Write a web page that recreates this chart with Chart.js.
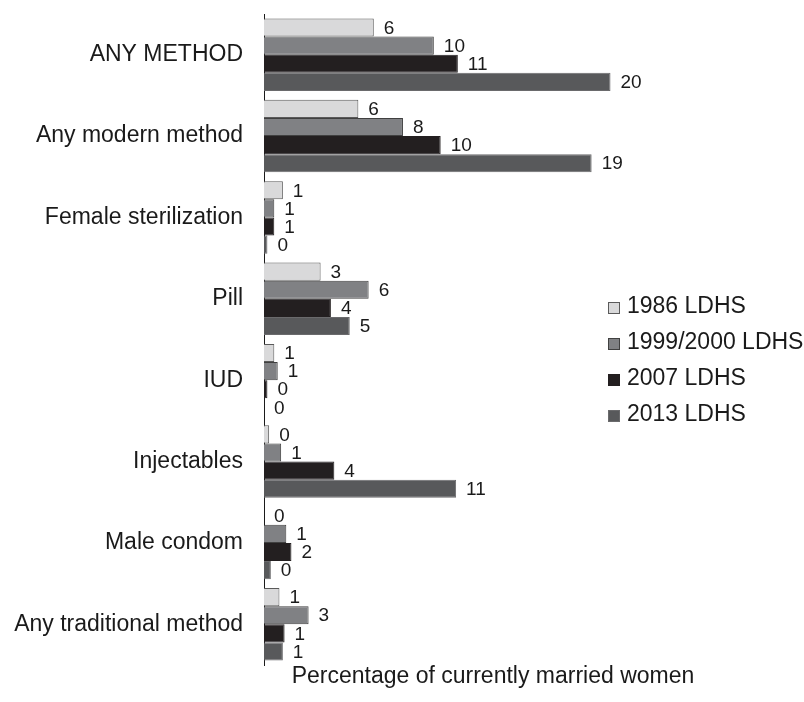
<!DOCTYPE html>
<html>
<head>
<meta charset="utf-8">
<title>Contraceptive use, LDHS</title>
<script src="https://cdn.jsdelivr.net/npm/chart.js@4.4.1/dist/chart.umd.min.js"></script>
<style>
  body { margin: 0; background: #fff; }
  #wrap { position: relative; width: 804px; height: 702px; }
  #legend {
    position: absolute; left: 608px; top: 287px;
    font: 23px "Liberation Sans", Arial, sans-serif; color: #1a1a1a;
  }
  #legend div { height: 36px; line-height: 36px; white-space: nowrap; }
  #legend span {
    display: inline-block; width: 10px; height: 10px; margin-right: 7px;
    border: 1px solid #555; vertical-align: -1px;
  }
</style>
</head>
<body>
<div id="wrap">
  <canvas id="chart"></canvas>
  <div id="legend"></div>
</div>
<script>
// categories (top to bottom)
const methods = [
  "ANY METHOD",
  "Any modern method",
  "Female sterilization",
  "Pill",
  "IUD",
  "Injectables",
  "Male condom",
  "Any traditional method"
];

// percentage of currently married women, per survey
const ldhs1986 = [6.4, 5.5, 1.1, 3.3, 0.6, 0.3, 0.0, 0.9];
const ldhs1999 = [9.9, 8.1, 0.6, 6.1, 0.8, 1.0, 1.3, 2.6];
const ldhs2007 = [11.3, 10.3, 0.6, 3.9, 0.2, 4.1, 1.6, 1.2];
const ldhs2013 = [20.2, 19.1, 0.2, 5.0, 0.0, 11.2, 0.4, 1.1];

const surveyNames = ["1986 LDHS", "1999/2000 LDHS", "2007 LDHS", "2013 LDHS"];

const FONT = '"Liberation Sans", Arial, sans-serif';

// draw the rounded value at the end of each bar
const valueLabels = {
  id: "valueLabels",
  afterDatasetsDraw(chart) {
    const ctx = chart.ctx;
    ctx.save();
    ctx.font = "19px " + FONT;
    ctx.fillStyle = "#1a1a1a";
    ctx.textAlign = "left";
    ctx.textBaseline = "middle";
    chart.data.datasets.forEach((ds, i) => {
      chart.getDatasetMeta(i).data.forEach((bar, j) => {
        ctx.fillText(String(Math.round(ds.data[j])), bar.x + 10, bar.y + 1);
      });
    });
    ctx.restore();
  }
};

const chart = new Chart(document.getElementById("chart"), {
  type: "bar",
  data: {
    labels: methods,
    datasets: [
      { label: surveyNames[0], data: ldhs1986, backgroundColor: "#d9d9da", borderColor: "#5a5a5a" },
      { label: surveyNames[1], data: ldhs1999, backgroundColor: "#808184", borderColor: "#404040" },
      { label: surveyNames[2], data: ldhs2007, backgroundColor: "#231f20", borderColor: "#231f20" },
      { label: surveyNames[3], data: ldhs2013, backgroundColor: "#58595b", borderColor: "#6a6a6c" }
    ]
  },
  options: {
    indexAxis: "y",
    responsive: true,
    maintainAspectRatio: false,
    animation: false,
    datasets: {
      bar: { borderWidth: 1, barPercentage: 1, categoryPercentage: 0.89 }
    },
    layout: { padding: { top: 14, right: 82, bottom: 0, left: 0 } },
    plugins: {
      legend: { display: false },
      tooltip: { enabled: false }
    },
    scales: {
      x: {
        min: 0,
        max: 26.7,
        grid: { display: false, drawTicks: false },
        border: { display: false },
        ticks: { display: false },
        title: {
          display: true,
          text: "Percentage of currently married women",
          color: "#1a1a1a",
          font: { family: FONT, size: 23, lineHeight: 1 },
          padding: { top: 0, bottom: 14 }
        }
      },
      y: {
        grid: { display: false, drawTicks: false },
        border: { display: true, color: "#1a1a1a", width: 1 },
        ticks: {
          color: "#1a1a1a",
          padding: 21,
          font: { family: FONT, size: 23 }
        },
        afterFit(scale) {
          scale.width = 264;
          // keep the label padding from pushing the plot down
          scale.paddingTop = 0;
          scale.paddingBottom = 0;
        }
      }
    }
  },
  plugins: [valueLabels]
});

// legend built from the chart's own datasets
const legendEl = document.getElementById("legend");
chart.data.datasets.forEach(ds => {
  const row = document.createElement("div");
  const box = document.createElement("span");
  box.style.background = ds.backgroundColor;
  box.style.borderColor = ds.borderColor;
  row.appendChild(box);
  row.appendChild(document.createTextNode(ds.label));
  legendEl.appendChild(row);
});
</script>
</body>
</html>
